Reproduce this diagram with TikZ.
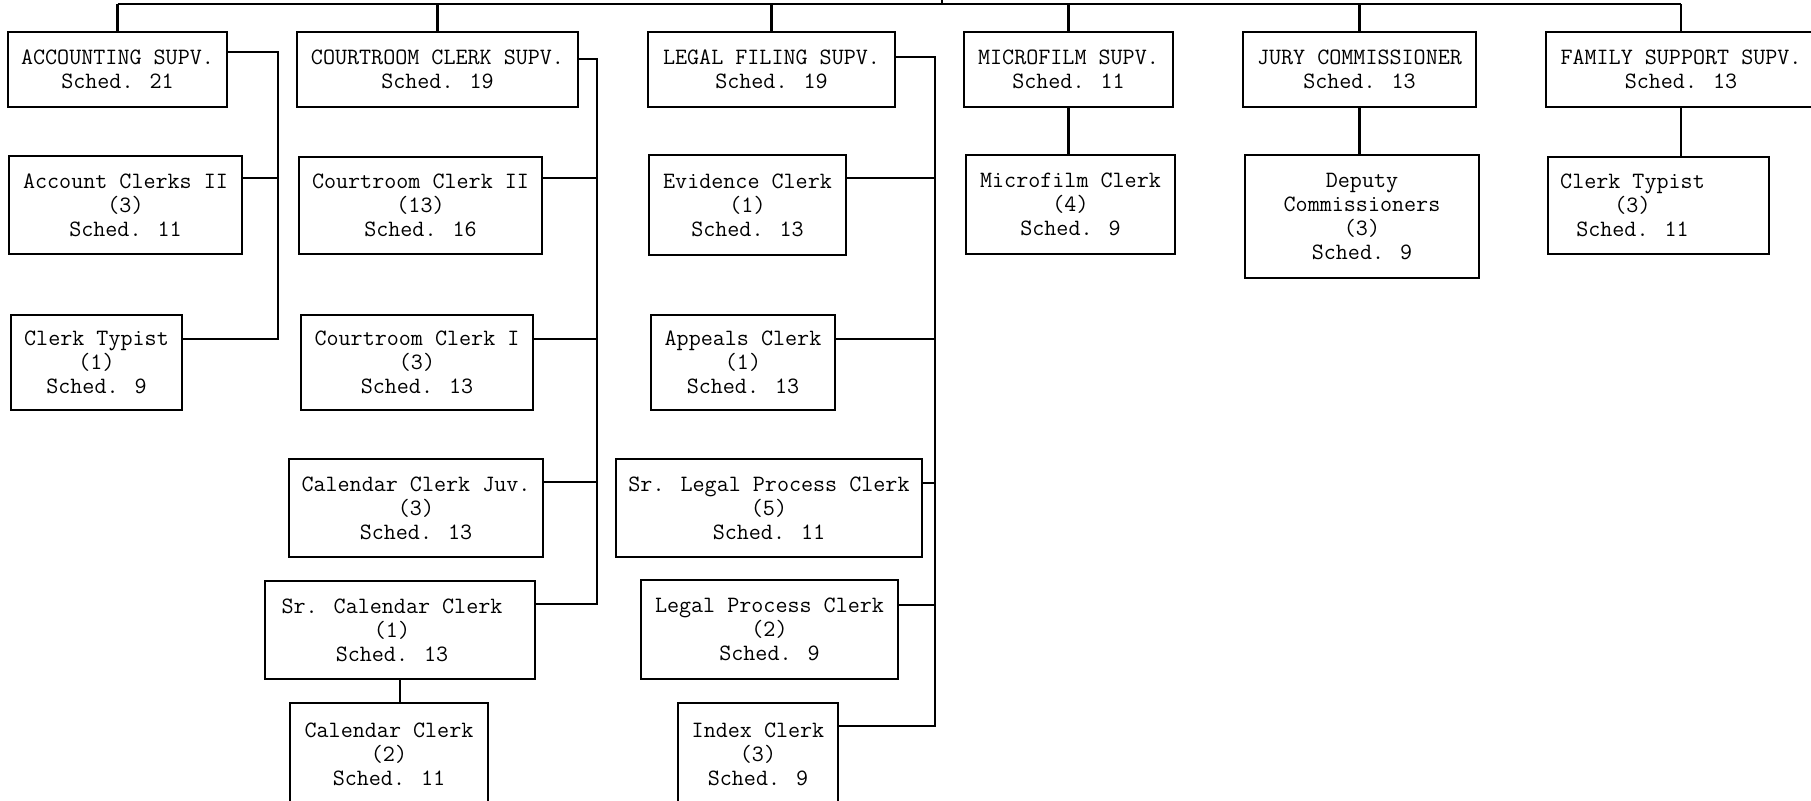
\documentclass[tikz,border=0pt]{standalone}
\usetikzlibrary{fit}
\newcommand\orgbox[5][0pt]{%
  \node[box, fit={#3 #4}] (#2) {};
  \node[txt] (#2t) at ([xshift=#1]#2.center) {#5};}
\begin{document}
\begin{tikzpicture}[x=0.5pt,y=-0.5pt,
  lab/.style={font=\ttfamily\fontsize{11.7pt}{12pt}\selectfont},
  box/.style={draw, line width=1.1pt, inner sep=0pt, outer sep=0pt},
  txt/.style={inner sep=0pt, align=center, lab},
  conn/.style={line width=1.4pt}]
\useasboundingbox (0,0) rectangle (1811,801);
\fill[white] (0,0) rectangle (1811,801);

% ---------- row 1 ----------
\orgbox{acc}{(8,32)}{(227,107)}{ACCOUNTING SUPV.\\Sched. 21}
\orgbox{crs}{(297,32)}{(578,107)}{COURTROOM CLERK SUPV.\\Sched. 19}
\orgbox{lgl}{(648,32)}{(895,107)}{LEGAL FILING SUPV.\\Sched. 19}
\orgbox{mfs}{(964,32)}{(1173,107)}{MICROFILM SUPV.\\Sched. 11}
\orgbox{jury}{(1243,32)}{(1476,107)}{JURY COMMISSIONER\\Sched. 13}
\orgbox{fam}{(1546,32)}{(1816,107)}{FAMILY SUPPORT SUPV.\\Sched. 13}

% ---------- row 2 ----------
\orgbox{acl}{(9,156)}{(242,254)}{Account Clerks II\\(3)\\Sched. 11}
\orgbox{cc2}{(299,157)}{(542,254)}{Courtroom Clerk II\\(13)\\Sched. 16}
\orgbox{evd}{(649,155)}{(846,255)}{Evidence Clerk\\(1)\\Sched. 13}
\orgbox{mfc}{(966,155)}{(1175,254)}{Microfilm Clerk\\(4)\\Sched. 9}
\orgbox{dep}{(1245,155)}{(1479,278)}{Deputy\\Commissioners\\(3)\\Sched. 9}
\orgbox[-13pt]{ftyp}{(1548,157)}{(1769,254)}{Clerk Typist\\(3)\\Sched. 11}

% ---------- row 3 ----------
\orgbox{typ1}{(11,315)}{(182,410)}{Clerk Typist\\(1)\\Sched. 9}
\orgbox{cc1}{(301,315)}{(533,410)}{Courtroom Clerk I\\(3)\\Sched. 13}
\orgbox{app}{(651,315)}{(835,410)}{Appeals Clerk\\(1)\\Sched. 13}

% ---------- row 4 ----------
\orgbox{cjuv}{(289,459)}{(543,557)}{Calendar Clerk Juv.\\(3)\\Sched. 13}
\orgbox{slp}{(616,459)}{(922,557)}{Sr. Legal Process Clerk\\(5)\\Sched. 11}

% ---------- row 5 ----------
\orgbox[-4pt]{scal}{(265,581)}{(535,679)}{Sr. Calendar Clerk\\(1)\\Sched. 13}
\orgbox{lp}{(641,580)}{(898,679)}{Legal Process Clerk\\(2)\\Sched. 9}

% ---------- row 6 ----------
\orgbox{cal}{(290,703)}{(488,806)}{Calendar Clerk\\(2)\\Sched. 11}
\orgbox{idx}{(678,703)}{(838,806)}{Index Clerk\\(3)\\Sched. 9}

% ---------- top bar ----------
\coordinate (tl) at (118,4);
\coordinate (stub) at (942,4);
\coordinate (stubtop) at (942,-4);
\draw[conn] (acc.north |- tl) -- (fam.north |- tl);
\draw[conn] (stub) -- (stubtop);
\foreach \n in {acc,crs,lgl,mfs,jury,fam}
  \draw[conn] (\n.north) -- (\n.north |- tl);

% ---------- accounting ----------
\coordinate (ab0) at (278,52);
\coordinate (ab2) at (278,178);
\coordinate (ab3) at (278,339);
\draw[conn] (acc.east |- ab0) -- (ab0) -- (ab3) -- (typ1.east |- ab3);
\draw[conn] (acl.east |- ab2) -- (ab2);

% ---------- courtroom ----------
\coordinate (cb0) at (597,59);
\coordinate (cb2) at (597,178);
\coordinate (cb3) at (597,339);
\coordinate (cb4) at (597,482);
\coordinate (cb5) at (597,604);
\draw[conn] (crs.east |- cb0) -- (cb0) -- (cb5) -- (scal.east |- cb5);
\draw[conn] (cc2.east |- cb2) -- (cb2);
\draw[conn] (cc1.east |- cb3) -- (cb3);
\draw[conn] (cjuv.east |- cb4) -- (cb4);
\draw[conn] (scal.south) -- (scal.south |- cal.north);

% ---------- legal filing ----------
\coordinate (lb0) at (935,57);
\coordinate (lb2) at (935,178);
\coordinate (lb3) at (935,339);
\coordinate (lb4) at (935,483);
\coordinate (lb5) at (935,605);
\coordinate (lb6) at (935,726);
\draw[conn] (lgl.east |- lb0) -- (lb0) -- (lb6) -- (idx.east |- lb6);
\draw[conn] (evd.east |- lb2) -- (lb2);
\draw[conn] (app.east |- lb3) -- (lb3);
\draw[conn] (slp.east |- lb4) -- (lb4);
\draw[conn] (lp.east |- lb5) -- (lb5);

% ---------- single drops ----------
\draw[conn] (mfs.south) -- (mfs.south |- mfc.north);
\draw[conn] (jury.south) -- (jury.south |- dep.north);
\draw[conn] (fam.south) -- (fam.south |- ftyp.north);
\end{tikzpicture}
\end{document}
